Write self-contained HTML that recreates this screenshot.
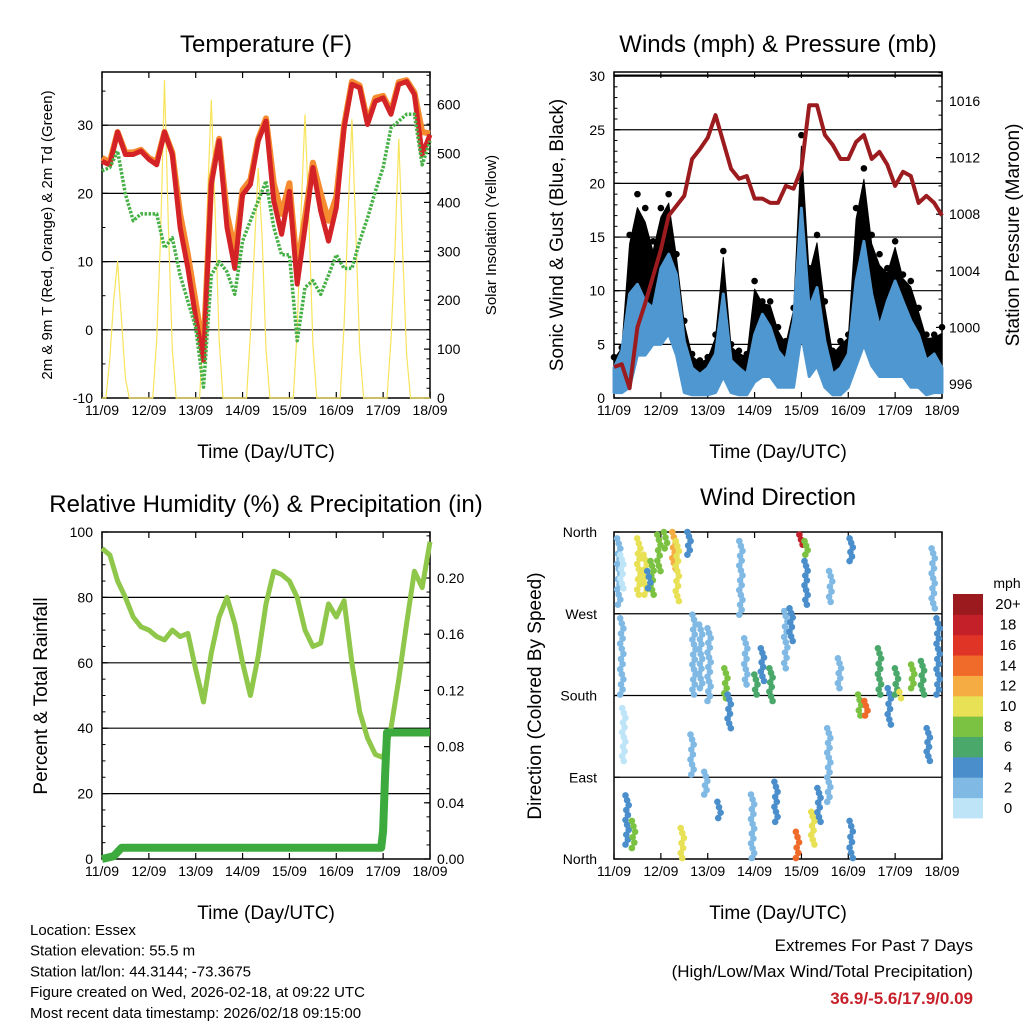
<!DOCTYPE html>
<html><head><meta charset="utf-8"><style>
html,body{margin:0;padding:0;background:#fff;}
svg{display:block;font-family:"Liberation Sans",sans-serif;}
</style></head><body>
<svg id="s" width="1024" height="1024" viewBox="0 0 1024 1024"></svg>
<script>
// ---------- DATA ----------
const hours4 = [0,4,8,12,16,20,24,28,32,36,40,44,48,52,56,60,64,68,72,76,80,84,88,92,96,100,104,108,112,116,120,124,128,132,136,140,144,148,152,156,160,164,168];
const temp2m = [24.7,24.2,29,25.7,25.7,26.2,25,24.2,29,25.7,15,9,1.8,-4.5,21.3,27.7,15,9,19.8,21.3,27.7,30.6,18.9,14,20.3,6.7,15,23.8,17.4,13,17.9,29.6,36,35.5,30.1,33.5,34,31.6,36,36.4,34.5,25.7,28.6];
const temp9m = [25.2,24.6,29,26,26,26.4,25.2,24.6,29,26,17,11,4,-3,22,28,17,11.5,20.5,22,28,31,21.5,17,21.5,9,16.5,24.5,20,16,19.5,30,36.4,35.8,30.5,34,34.3,32,36.3,36.6,34.8,29,28.8];
const dewpt = [23.3,23.8,26.2,19.9,16,17,17,17,12,13.5,8,4.2,0.3,-8.4,8,10,8.5,5.2,13,16,18.9,21.8,15,11,11,-1.6,6.2,7.2,5.2,8,11,9,9,13,16.4,20.3,23.8,29.6,30.6,31.6,31.6,24.2,27.7];
const solar = [0,0,80,200,280,160,40,0,0,0,0,0, 0,0,120,330,650,350,100,0,0,0,0,0, 0,0,150,400,610,380,120,0,0,0,0,0, 0,0,130,300,470,330,100,0,0,0,0,0, 0,0,140,380,580,360,110,0,0,0,0,0, 0,0,150,370,570,340,100,0,0,0,0,0, 0,0,120,300,530,300,90,0,0,0,0,0, 0];
const pressure = [997.2,997.4,995.7,1000.0,1001.7,1003.6,1005.5,1007.9,1008.6,1009.3,1011.9,1012.6,1013.4,1015.0,1013.1,1011.2,1010.5,1010.7,1009.1,1009.1,1008.8,1008.8,1010.0,1009.8,1011.2,1015.7,1015.7,1013.6,1012.9,1011.9,1011.9,1013.1,1013.6,1011.9,1012.4,1011.5,1010.0,1011.0,1010.7,1008.8,1009.3,1008.8,1007.9];
const windHi = [2.8,4.4,9.7,10.6,9,8.4,12.1,13.4,11.5,5.3,2.8,2.2,2.8,4.1,9.7,3.5,2.8,2.2,5.9,7.8,6.6,4.4,3.5,7.2,17.7,8.4,10.3,5.3,2.2,2.8,4.1,10.9,14.6,9.7,6.6,9,10.9,9,7.2,5.9,3.5,4.1,2.8];
const windLo = [0.5,0.5,1,4,4,5,5,6,4,0.5,0.3,0.3,0.3,0.5,2,0.5,0.3,0.3,1.5,2,2,1,1,1,6,2,3,1,0.3,0.3,1,3,5,3,2,2,2,2,1,1,0.3,0.5,0.5];
const gust = [3.8,4.7,15.2,19,17.7,14.6,17.7,19,13.4,7.2,4.1,3.5,3.8,5.9,13.7,5,4.4,4.1,10.9,9,9,6.6,5.3,8.4,24.5,12.1,15.2,9,4.4,5.3,5.9,17.7,21.4,15.2,13.4,12.1,14.6,11.5,10.9,8.4,5.9,5.9,6.6];
const rh = [95,93,85,80,74,71,70,68,67,70,68,69,58,48,63,74,80,72,60,50,62,78,88,87,85,80,70,65,66,78,74,79,60,45,37,32,31,40,55,72,88,83,97];
const precipHours = [0,6,10,143,144,145,146,168];
const precipTotal = [0,0.002,0.008,0.008,0.02,0.06,0.09,0.09];
const dirHour = [2.4,4,5,6.7,10,12.7,16,19.5,23,26.4,30.7,32.4,35,38.4,41,44.4,48.7,40,53.8,57.3,59,65,67.5,72.7,76,80.4,83,88,90.7,94,95.8,98.4,98.4,101.8,105,111,115.5,121.5,121.5,125.8,129,136,141,144.7,147,153,158,161,163.5,166,17.8,47,71,110,4];
const dirFrom = [353,265,166,70,42,353,335,328,357,360,360,350,34,360,269,258,254,137,63,210,181,350,243,203,232,210,85,273,276,30,357,350,328,52,78,317,221,353,42,181,174,232,188,210,184,214,218,144,342,265,317,96,71,144,335];
const dirTo = [280,181,108,16,12,291,291,291,317,342,320,284,1,335,181,188,174,93,45,177,144,269,192,181,196,174,41,210,240,1,346,335,280,16,41,283,188,328,1,158,158,181,148,181,177,188,181,108,276,181,298,71,1,63,298];
const dirSpeed = [1,1,0,3,8,9,10,7,8,8,11,10,10,4,2,2,2,1,4,7,4,1,2,5,4,6,3,2,3,13,18,7,4,9,4,2,2,3,3,7,13,6,4,6,10,7,6,3,1,3,4,2,1,1,0];
const colorBins = ["#bde4f7","#7fb9e4","#4a8fcb","#4aa86b","#7cc242","#e8e155","#f5ad43","#f06a2a","#e03426","#c4202a","#9a1a1e"];
const binLabels = ["0","2","4","6","8","10","12","14","16","18","20+"];
const dayLabels = ["11/09","12/09","13/09","14/09","15/09","16/09","17/09","18/09"];

// ---------- HELPERS ----------
const NS="http://www.w3.org/2000/svg";
const svg=document.getElementById('s');
function el(tag,attrs,parent){const e=document.createElementNS(NS,tag);for(const k in attrs)e.setAttribute(k,attrs[k]);(parent||svg).appendChild(e);return e;}
function txt(x,y,s,size,anchor,parent,extra){const t=el('text',Object.assign({x:x,y:y,'font-size':size,'text-anchor':anchor||'middle',fill:'#000'},extra||{}),parent);t.textContent=s;return t;}
function pts(xs,ys,fx,fy){return xs.map((v,i)=>fx(v).toFixed(1)+','+fy(ys[i]).toFixed(1)).join(' ');}

const P1={x0:102,x1:430,y0:72,y1:398}, P2={x0:614,x1:942,y0:72,y1:398}, P3={x0:102,x1:430,y0:532,y1:859}, P4={x0:614,x1:942,y0:532,y1:859};
function xs(P){return h=>P.x0+h/168*(P.x1-P.x0);}
const hours2=solar.map((v,i)=>i*2);

function frame(P,name){
  const g=el('g',{});
  
  
  el('rect',{x:P.x0,y:P.y0,width:P.x1-P.x0,height:P.y1-P.y0,fill:'none',stroke:'#000','stroke-width':1.5},g);
  const fx=xs(P);
  for(let d=0;d<8;d++){
    const x=fx(d*24);
    el('line',{x1:x,x2:x,y1:P.y1,y2:P.y1-6,stroke:'#000','stroke-width':1.2},g);
    el('line',{x1:x,x2:x,y1:P.y0,y2:P.y0+6,stroke:'#000','stroke-width':1.2},g);
    const t=txt(x,P.y1+17,dayLabels[d],14,'middle',g);
    
    
  }
  const xt=txt((P.x0+P.x1)/2,P.y1+60,'Time (Day/UTC)',19,'middle',g);
  
  
  return g;
}
function hgrid(P,ys,g){ys.forEach(y=>el('line',{x1:P.x0,x2:P.x1,y1:y,y2:y,stroke:'#000','stroke-width':1.2},g));}
function yTicks(P,vals,fy,side,fmt,g,minor){
  const x=side==='l'?P.x0:P.x1, dir=side==='l'?1:-1;
  vals.forEach(v=>{const y=fy(v);el('line',{x1:x,x2:x+dir*6,y1:y,y2:y,stroke:'#000','stroke-width':1.2},g);
    const t=txt(side==='l'?x-9:x+7,y+5,fmt(v),14,side==='l'?'end':'start',g);
    
    });
  (minor||[]).forEach(v=>{const y=fy(v);el('line',{x1:x,x2:x+dir*3.5,y1:y,y2:y,stroke:'#000','stroke-width':1},g);});
}
function rng(a,b,s){const r=[];for(let v=a;v<=b+1e-9;v+=s)r.push(+v.toFixed(4));return r;}

// ---------- PANEL 1: TEMPERATURE ----------
(function(){
  const P=P1, fx=xs(P), fT=t=>P.y1-(t+10)*6.82, fS=s=>P.y1-s*0.489;
  const g=frame(P,'temperature');
  hgrid(P,[fT(0),fT(10),fT(20),fT(30)],g);
  const sol=el('polyline',{points:pts(hours2,solar,fx,fS),fill:'none',stroke:'#f8e45c','stroke-width':1.2});
  
  
  const o=el('polyline',{points:pts(hours4,temp9m,fx,fT),fill:'none',stroke:'#f58a2e','stroke-width':6,'stroke-linejoin':'round'});
  
  
  const r=el('polyline',{points:pts(hours4,temp2m,fx,fT),fill:'none',stroke:'#d42327','stroke-width':5,'stroke-linejoin':'round'});
  
  
  const d=el('polyline',{points:pts(hours4,dewpt,fx,fT),fill:'none',stroke:'#45b045','stroke-width':3.5,'stroke-dasharray':'2.5 1.5','stroke-linejoin':'round'});
  
  
  yTicks(P,[-10,0,10,20,30],fT,'l',v=>v,g,rng(-10,36,5));
  yTicks(P,[0,100,200,300,400,500,600],fS,'r',v=>v,g,rng(0,660,20));
  const t=txt(266,52,'Temperature (F)',24,'middle');
  
  
  const yl=txt(0,0,'2m & 9m T (Red, Orange) & 2m Td (Green)',15,'middle',null,{transform:'translate(52,235) rotate(-90)'});
  
  
  const yr=txt(0,0,'Solar Insolation (Yellow)',15,'middle',null,{transform:'translate(496,235) rotate(-90)'});
  
  
})();

// ---------- PANEL 2: WINDS ----------
(function(){
  const P=P2, fx=xs(P), fW=w=>P.y1-w*10.73, fP=p=>384-(p-996)*14.15;
  const g=frame(P,'winds');
  hgrid(P,[5,10,15,20,25,30].map(fW),g);
  el('line',{x1:P.x0,x2:P.x1,y1:P.y0+3,y2:P.y0+3,stroke:'#000','stroke-width':1},g);
  const topG=hours4.map((h,i)=>fx(h).toFixed(1)+','+fW(gust[i]*0.85+windHi[i]*0.15).toFixed(1));
  const botG=hours4.map((h,i)=>fx(h).toFixed(1)+','+fW(windLo[i]).toFixed(1)).reverse();
  const gb=el('polygon',{points:topG.concat(botG).join(' '),fill:'#000','stroke':'#000','stroke-width':1,'stroke-linejoin':'round'});
  
  
  hours4.forEach((h,i)=>{
    const c=el('circle',{cx:fx(h),cy:fW(gust[i]),r:3.3,fill:'#000'});
    
    
  });
  const topW=hours4.map((h,i)=>fx(h).toFixed(1)+','+fW(windHi[i]).toFixed(1));
  const botW=hours4.map((h,i)=>fx(h).toFixed(1)+','+fW(windLo[i]).toFixed(1)).reverse();
  const wb=el('polygon',{points:topW.concat(botW).join(' '),fill:'#4f97d0',stroke:'#4f97d0','stroke-width':3,'stroke-linejoin':'round'});
  
  
  const pl=el('polyline',{points:pts(hours4,pressure,fx,fP),fill:'none',stroke:'#9b1b1e','stroke-width':4,'stroke-linejoin':'round'});
  
  
  yTicks(P,[0,5,10,15,20,25,30],fW,'l',v=>v,g,rng(0,30,1));
  yTicks(P,[996,1000,1004,1008,1012,1016],fP,'r',v=>v,g,rng(995,1018,1));
  const t=txt(778,52,'Winds (mph) & Pressure (mb)',24,'middle');
  
  
  const yl=txt(0,0,'Sonic Wind & Gust (Blue, Black)',19,'middle',null,{transform:'translate(563,235) rotate(-90)'});
  
  
  const yr=txt(0,0,'Station Pressure (Maroon)',19,'middle',null,{transform:'translate(1019,235) rotate(-90)'});
  
  
})();

// ---------- PANEL 3: RH & PRECIP ----------
(function(){
  const P=P3, fx=xs(P), fR=r=>P.y1-r*3.27, fV=v=>P.y1-v*1405;
  const g=frame(P,'humidity');
  hgrid(P,[20,40,60,80].map(fR),g);
  const rl=el('polyline',{points:pts(hours4,rh,fx,fR),fill:'none',stroke:'#8fc74a','stroke-width':5,'stroke-linejoin':'round'});
  
  
  const pr=el('polyline',{points:pts(precipHours,precipTotal,fx,fV),fill:'none',stroke:'#3daa3d','stroke-width':8,'stroke-linejoin':'round'});
  
  
  yTicks(P,[0,20,40,60,80,100],fR,'l',v=>v,g,rng(0,100,5));
  yTicks(P,[0,0.04,0.08,0.12,0.16,0.20],fV,'r',v=>v.toFixed(2),g,rng(0,0.23,0.01));
  const t=txt(266,512,'Relative Humidity (%) & Precipitation (in)',24,'middle');
  
  
  const yl=txt(0,0,'Percent & Total Rainfall',19,'middle',null,{transform:'translate(47,696) rotate(-90)'});
  
  
})();

// ---------- PANEL 4: WIND DIRECTION ----------
(function(){
  const P=P4, fx=xs(P), fD=d=>P.y1-d/360*(P.y1-P.y0);
  const g=frame(P,'wind-direction');
  hgrid(P,[270,180,90].map(fD),g);
  const dots=el('g',{});
  
  
  dirHour.forEach((h,i)=>{
    const y1=fD(dirFrom[i]), y2=fD(dirTo[i]);
    const n=Math.max(1,Math.round(Math.abs(y2-y1)/5));
    const col=colorBins[Math.min(10,Math.round(dirSpeed[i]/2))];
    for(let k=0;k<=n;k++){
      const c=el('circle',{cx:(fx(h)+((k*7)%5-2)*0.8).toFixed(1),cy:(y1+(y2-y1)*k/n).toFixed(1),r:3.3,fill:col},dots);
      
      
    }
  });
  [['North',360],['West',270],['South',180],['East',90],['North',0]].forEach(a=>{
    const y=fD(a[1]);
    el('line',{x1:P.x0,x2:P.x0+6,y1:y,y2:y,stroke:'#000','stroke-width':1.2},g);
    const t=txt(597,y+5,a[0],14,'end',g);
    
    
  });
  const t=txt(778,505,'Wind Direction',24,'middle');
  
  
  const yl=txt(0,0,'Direction (Colored By Speed)',19,'middle',null,{transform:'translate(541,696) rotate(-90)'});
  
  
  const cb=el('g',{});
  
  
  const bh=(818-594)/11;
  colorBins.forEach((c,i)=>{
    const y=818-(i+1)*bh;
    el('rect',{x:953,y:y.toFixed(1),width:30,height:(bh+0.4).toFixed(1),fill:c},cb);
    const l=txt(1008,y+bh/2+5,binLabels[i],15,'middle',cb);
    
    
  });
  const m=txt(1007,588,'mph',14,'middle',cb);
  
  
})();

// ---------- FOOTER ----------
const info=["Location: Essex","Station elevation: 55.5 m","Station lat/lon: 44.3144; -73.3675","Figure created on Wed, 2026-02-18, at 09:22 UTC","Most recent data timestamp: 2026/02/18 09:15:00"];
info.forEach((s,i)=>{const t=txt(30,935+i*20.7,s,15,'start');
  
  });
const e1=txt(973,951,'Extremes For Past 7 Days',17,'end');


const e2=txt(973,977,'(High/Low/Max Wind/Total Precipitation)',17,'end');


const e3=txt(973,1004,'36.9/-5.6/17.9/0.09',17,'end',null,{fill:'#c8202a','font-weight':'bold'});


</script>
</body></html>
